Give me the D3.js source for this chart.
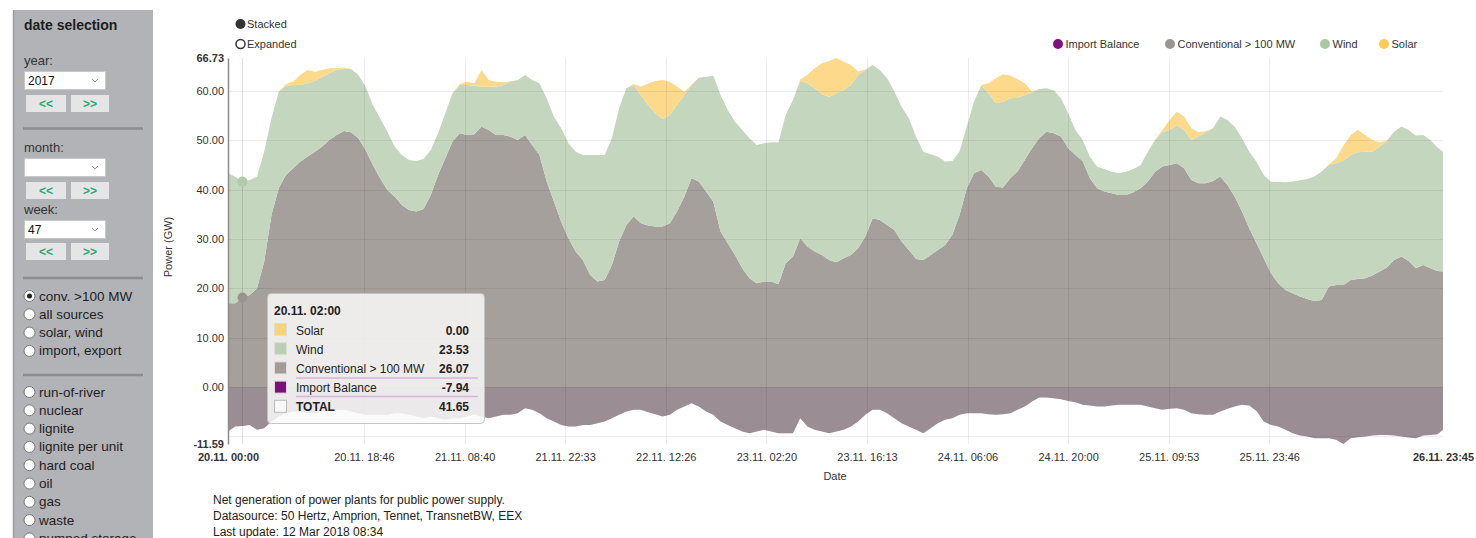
<!DOCTYPE html>
<html>
<head>
<meta charset="utf-8">
<title>Net generation, week 47 2017</title>
<script src="https://cdn.jsdelivr.net/npm/d3@7/dist/d3.min.js"></script>
<style>
	body { margin: 0; background: #fff; overflow: hidden; }
	svg { display: block; font-family: 'Liberation Sans', Arial, sans-serif; }
</style>
</head>
<body>
<script>
const w = 1476;
const h = 538;

// hourly readings, 20.11.2017 00:00 ... 26.11.2017 23:00, last one at 23:45 (GW)
const importBalance = [
	-9.06, -8.05, -7.944, -7.71, -8.72, -8.38, -7.03, -6.02, -5.34, -5.00, -5.00, -5.34,
	-5.34, -5.00, -5.00, -4.66, -4.66, -5.00, -5.34, -5.68, -5.68, -5.68, -5.68, -5.34,
	-5.34, -5.68, -6.02, -6.35, -6.02, -6.35, -6.69, -6.35, -6.35, -6.02, -5.68, -6.02,
	-6.35, -6.02, -5.68, -5.68, -5.34, -4.33, -4.66, -5.34, -6.35, -7.03, -7.71, -8.05,
	-8.05, -7.71, -7.71, -7.37, -7.03, -6.35, -5.68, -5.00, -4.66, -4.66, -5.14, -5.54,
	-6.02, -5.68, -4.66, -3.99, -3.31, -3.99, -5.00, -5.68, -7.03, -7.71, -8.38, -9.06,
	-9.40, -9.06, -8.72, -9.06, -9.40, -9.40, -9.40, -6.35, -8.05, -8.72, -9.06, -9.40,
	-9.06, -8.72, -8.05, -7.03, -5.68, -4.66, -4.66, -5.34, -6.35, -7.37, -8.05, -8.72,
	-9.40, -8.38, -7.37, -6.69, -6.35, -5.68, -5.34, -5.34, -5.34, -5.54, -5.68, -5.54,
	-5.34, -4.66, -3.99, -2.97, -2.16, -2.16, -2.30, -2.50, -2.84, -3.11, -3.65, -3.79,
	-3.99, -3.99, -3.79, -3.65, -3.65, -3.65, -3.65, -3.99, -4.33, -4.66, -4.46, -4.33,
	-4.66, -5.34, -5.54, -5.68, -5.68, -5.00, -4.46, -3.99, -3.65, -3.79, -4.87, -7.03,
	-7.71, -8.05, -8.72, -9.40, -9.87, -10.07, -10.41, -10.41, -10.41, -10.75, -11.59, -10.41,
	-10.21, -10.07, -9.87, -9.74, -9.74, -9.87, -10.07, -10.28, -10.41, -9.87, -9.74, -9.60,
	-8.72
];

const conventional = [
	26.03, 25.02, 26.066, 26.37, 28.73, 33.81, 41.92, 46.31, 48.34, 49.36, 50.71, 52.06,
	53.07, 53.75, 55.10, 55.78, 56.59, 56.66, 55.78, 53.75, 50.71, 48.00, 45.64, 43.95,
	42.26, 41.58, 41.58, 42.46, 44.96, 49.36, 53.07, 56.12, 57.81, 57.13, 56.93, 58.82,
	58.48, 57.13, 56.79, 56.45, 55.44, 55.44, 53.75, 52.40, 48.00, 44.62, 41.24, 38.20,
	35.50, 33.47, 30.42, 28.73, 28.73, 31.10, 35.16, 37.86, 39.21, 37.86, 37.86, 38.06,
	38.54, 38.88, 40.23, 42.59, 45.64, 45.64, 44.62, 43.27, 38.54, 36.85, 35.16, 33.13,
	31.44, 30.09, 30.09, 30.42, 30.22, 34.48, 35.83, 36.51, 36.51, 36.17, 35.83, 35.16,
	34.35, 34.82, 34.82, 35.16, 36.17, 38.88, 38.54, 38.20, 38.20, 36.85, 35.83, 34.68,
	35.16, 35.16, 35.16, 35.50, 37.19, 40.57, 45.64, 48.68, 49.36, 48.21, 46.31, 45.97,
	47.67, 48.34, 50.03, 51.38, 52.60, 53.95, 53.75, 53.28, 51.25, 50.17, 49.49, 46.11,
	44.28, 43.61, 43.07, 42.59, 42.59, 43.13, 43.95, 45.64, 48.00, 49.36, 49.49, 49.69,
	49.02, 47.33, 46.85, 46.99, 47.46, 47.67, 45.43, 42.59, 39.21, 35.97, 34.01, 33.13,
	30.76, 29.07, 28.40, 28.40, 28.19, 27.92, 27.86, 28.06, 30.76, 31.44, 32.25, 32.11,
	32.11, 32.11, 32.45, 33.13, 33.94, 35.63, 36.51, 35.83, 34.48, 34.62, 33.81, 33.13,
	32.11
];

const wind = [
	26.37, 25.69, 23.527, 23.33, 22.65, 22.31, 19.61, 19.61, 18.12, 16.90, 15.55, 14.87,
	14.33, 14.20, 13.52, 13.18, 12.71, 12.85, 12.85, 12.85, 12.17, 12.17, 11.83, 10.14,
	10.14, 10.14, 10.28, 10.14, 9.13, 8.45, 9.13, 9.80, 9.80, 10.14, 9.87, 8.11,
	8.79, 9.80, 10.14, 11.16, 12.17, 12.17, 13.18, 14.54, 16.90, 17.24, 18.93, 19.27,
	20.28, 21.30, 24.34, 25.69, 25.35, 25.69, 27.04, 27.72, 26.71, 26.03, 24.47, 22.99,
	21.84, 21.97, 21.64, 20.62, 18.93, 21.09, 23.33, 25.56, 27.72, 27.04, 27.04, 28.06,
	28.40, 28.06, 28.06, 28.26, 28.80, 30.09, 31.78, 31.91, 33.13, 33.13, 32.59, 33.13,
	34.28, 34.14, 34.48, 35.16, 33.81, 31.10, 30.42, 29.75, 28.06, 27.38, 26.71, 24.81,
	21.97, 20.42, 18.93, 16.90, 15.01, 12.85, 12.51, 14.54, 17.11, 16.90, 16.90, 17.44,
	16.23, 15.01, 13.18, 11.36, 10.01, 8.79, 8.72, 7.78, 7.10, 5.07, 4.26, 4.39,
	4.39, 4.60, 4.39, 4.39, 4.73, 4.73, 4.73, 6.08, 6.42, 6.96, 7.10, 7.78,
	7.78, 8.11, 9.47, 10.34, 10.68, 12.17, 13.18, 14.20, 14.87, 15.55, 16.56, 16.90,
	18.59, 20.62, 21.84, 22.65, 23.60, 24.34, 25.22, 26.03, 24.68, 24.68, 25.22, 25.35,
	25.69, 25.69, 25.15, 25.35, 25.69, 26.03, 26.37, 26.57, 26.91, 26.37, 26.03, 25.02,
	24.34
];

const solar = [
	0, 0, 0, 0, 0, 0, 0, 0, 0.30, 0.68, 2.03, 2.70,
	1.89, 1.35, 1.01, 0.34, 0.14, 0, 0, 0, 0, 0, 0, 0,
	0, 0, 0, 0, 0, 0, 0, 0, 0.20, 0.68, 0.47, 3.38,
	1.35, 1.01, 0.54, 0.10, 0, 0, 0, 0, 0, 0, 0, 0,
	0, 0, 0, 0, 0, 0, 0, 0, 0.20, 1.69, 4.39, 6.56,
	7.91, 6.76, 3.72, 0.68, 0.10, 0, 0, 0, 0, 0, 0, 0,
	0, 0, 0, 0, 0, 0, 0, 0.30, 1.69, 4.06, 6.29, 7.23,
	7.16, 5.75, 4.06, 0.68, 0.10, 0, 0, 0, 0, 0, 0, 0,
	0, 0, 0, 0, 0, 0, 0, 0, 0.14, 2.03, 5.07, 5.54,
	4.60, 3.79, 2.37, 0.14, 0, 0, 0, 0, 0, 0, 0, 0,
	0, 0, 0, 0, 0, 0, 0, 0, 0.10, 0.47, 2.03, 2.70,
	2.70, 2.37, 0.88, 0.27, 0, 0, 0, 0, 0, 0, 0, 0,
	0, 0, 0, 0, 0, 0, 0, 0, 0.10, 1.01, 3.04, 4.06,
	4.53, 3.38, 2.37, 0.88, 0.10, 0, 0, 0, 0, 0, 0, 0,
	0
];

const keys = ['importBalance', 'conventional', 'wind', 'solar'];
const names = ['Import Balance', 'Conventional > 100 MW', 'Wind', 'Solar'];
const xTickLabels = ['20.11. 18:46', '21.11. 08:40', '21.11. 22:33', '22.11. 12:26', '23.11. 02:20',
	'23.11. 16:13', '24.11. 06:06', '24.11. 20:00', '25.11. 09:53', '25.11. 23:46'];
const hoverIndex = 2;

const footerLines = [
	'Net generation of power plants for public power supply.',
	'Datasource: 50 Hertz, Amprion, Tennet, TransnetBW, EEX',
	'Last update: 12 Mar 2018 08:34'
];
const radiosTop = ['conv. >100 MW', 'all sources', 'solar, wind', 'import, export'];
const radiosBottom = ['run-of-river', 'nuclear', 'lignite', 'lignite per unit', 'hard coal', 'oil', 'gas', 'waste', 'pumped storage'];

// styles
const fills = { importBalance: '#60306a', conventional: '#a6a09c', wind: '#c5d6bf', solar: '#fdd98c' };
const dots = { importBalance: '#7f1180', conventional: '#9b9692', wind: '#a9c8a0', solar: '#ffc955' };
const swatches = { importBalance: '#7d0f7d', conventional: '#a29c98', wind: '#b9d1b1', solar: '#fdd37a' };

const num = d3.formatLocale({ decimal: '.', thousands: ',', grouping: [3], currency: ['', ''], minus: '-' }).format('.2f');

const times = d3.range(168).map(hr => new Date(2017, 10, 20, hr));
times.push(new Date(2017, 10, 26, 23, 45));

const rows = times.map((t, i) => ({
	time: t,
	importBalance: importBalance[i],
	conventional: conventional[i],
	wind: wind[i],
	solar: solar[i]
}));

const series = d3.stack().keys(keys)(rows);

const yMin = d3.min(series, s => d3.min(s, d => Math.min(d[0], d[1])));
const yMax = d3.max(series, s => d3.max(s, d => Math.max(d[0], d[1])));

const x = d3.scaleTime()
	.domain([times[0], times[times.length - 1]])
	.range([228, 1443]);

const y = d3.scaleLinear()
	.domain([yMin, yMax])
	.range([444, 58]);

const svg = d3.select('body').append('svg')
	.attr('width', w)
	.attr('height', h);

const area = d3.area()
	.x(d => x(d.data.time))
	.y0(d => y(d[0]))
	.y1(d => y(d[1]));

// conventional, wind, solar first, import balance laid over them
const drawOrder = [1, 2, 3, 0];
svg.append('g')
	.selectAll('path')
	.data(drawOrder.map(i => series[i]))
	.enter()
	.append('path')
	.attr('d', area)
	.attr('fill', d => fills[d.key])
	.attr('fill-opacity', d => d.key === 'importBalance' ? 0.16 : 1);

const fmt = d3.timeFormat('%d.%m. %H:%M');
const parse = d3.timeParse('%d.%m. %H:%M %Y');
const xTicks = xTickLabels.map(s => parse(s + ' 2017'));

// grid
const grid = svg.append('g').attr('stroke', '#000').attr('stroke-opacity', 0.075);
grid.selectAll('.hg')
	.data(d3.range(-10, 61, 10))
	.enter()
	.append('line')
	.attr('x1', 228)
	.attr('x2', 1443)
	.attr('y1', d => Math.round(y(d)) + 0.5)
	.attr('y2', d => Math.round(y(d)) + 0.5);
grid.selectAll('.vg')
	.data(xTicks)
	.enter()
	.append('line')
	.attr('x1', d => Math.round(x(d)) + 0.5)
	.attr('x2', d => Math.round(x(d)) + 0.5)
	.attr('y1', 58)
	.attr('y2', 444);

// hover marker at 20.11. 02:00
const hx = Math.round(x(times[hoverIndex])) + 0.5;
svg.append('line')
	.attr('x1', hx).attr('x2', hx)
	.attr('y1', 58).attr('y2', 444)
	.attr('stroke', '#000')
	.attr('stroke-opacity', 0.12);
svg.append('circle')
	.attr('cx', hx)
	.attr('cy', y(series[2][hoverIndex][1]))
	.attr('r', 5)
	.attr('fill', '#b3caab');
svg.append('circle')
	.attr('cx', hx)
	.attr('cy', y(series[1][hoverIndex][1]))
	.attr('r', 5)
	.attr('fill', '#9a948f');

// axes
const yTicks = [yMin, 0, 10, 20, 30, 40, 50, 60, yMax];
const yAxis = svg.append('g')
	.attr('transform', 'translate(228,0)')
	.call(d3.axisLeft(y).tickValues(yTicks).tickFormat(num).tickSize(0).tickPadding(4));
yAxis.attr('font-family', null).attr('font-size', 11);
yAxis.select('.domain').attr('stroke', '#8c8c8c').attr('stroke-width', 1.5);
yAxis.selectAll('text')
	.attr('fill', '#333')
	.attr('font-weight', (d, i) => (i === 0 || i === yTicks.length - 1) ? 'bold' : null);

const xAxis = svg.append('g')
	.attr('transform', 'translate(0,444)')
	.call(d3.axisBottom(x).tickValues([times[0], ...xTicks, times[times.length - 1]]).tickFormat(fmt).tickSize(0).tickPadding(9));
xAxis.attr('font-family', null).attr('font-size', 11);
xAxis.select('.domain').remove();
xAxis.selectAll('text')
	.attr('fill', '#333')
	.attr('font-weight', (d, i) => (i === 0 || i === xTicks.length + 1) ? 'bold' : null);

svg.append('text')
	.attr('x', 835)
	.attr('y', 480)
	.attr('text-anchor', 'middle')
	.attr('font-size', 11)
	.attr('fill', '#333')
	.text('Date');

svg.append('text')
	.attr('transform', 'translate(172,247) rotate(-90)')
	.attr('text-anchor', 'middle')
	.attr('font-size', 11)
	.attr('fill', '#333')
	.text('Power (GW)');

// stacked / expanded switch
svg.append('circle').attr('cx', 240.5).attr('cy', 24).attr('r', 5).attr('fill', '#333');
svg.append('circle').attr('cx', 240.5).attr('cy', 44).attr('r', 4.5).attr('fill', '#fff').attr('stroke', '#333').attr('stroke-width', 1.5);
svg.append('text').attr('x', 247).attr('y', 28).attr('font-size', 11).attr('fill', '#333').text('Stacked');
svg.append('text').attr('x', 247).attr('y', 48).attr('font-size', 11).attr('fill', '#333').text('Expanded');

// legend
const legendX = [1058, 1170, 1325, 1384];
const legend = svg.append('g')
	.selectAll('g')
	.data(keys)
	.enter()
	.append('g')
	.attr('transform', (d, i) => `translate(${legendX[i]},44)`);
legend.append('circle').attr('r', 5).attr('fill', d => dots[d]);
legend.append('text')
	.attr('x', 7.5)
	.attr('y', 4)
	.attr('font-size', 11)
	.attr('fill', '#333')
	.text((d, i) => names[i]);

// tooltip
const tip = svg.append('g').attr('transform', 'translate(267,293)');
tip.append('rect')
	.attr('x', 0.5).attr('y', 0.5)
	.attr('width', 217).attr('height', 130)
	.attr('rx', 4)
	.attr('fill', '#fafafa')
	.attr('fill-opacity', 0.84)
	.attr('stroke', '#c4c4c4');
tip.append('text')
	.attr('x', 7).attr('y', 22)
	.attr('font-size', 12).attr('font-weight', 'bold').attr('fill', '#222')
	.text(fmt(times[hoverIndex]));

const total = keys.reduce((acc, k) => acc + rows[hoverIndex][k], 0);
const tipRows = [...keys].reverse().map(k => ({ key: k, label: names[keys.indexOf(k)], value: rows[hoverIndex][k], color: swatches[k] }));
tipRows.push({ key: 'total', label: 'TOTAL', value: total, color: '#f8f8f8' });

const tr = tip.selectAll('.row')
	.data(tipRows)
	.enter()
	.append('g')
	.attr('transform', (d, i) => `translate(0,${37 + i * 19.2})`);
tr.append('rect')
	.attr('x', 7.5).attr('y', -6.5)
	.attr('width', 12).attr('height', 12)
	.attr('fill', d => d.color)
	.attr('stroke', d => d.key === 'total' ? '#bbb' : '#ddd');
tr.append('text')
	.attr('x', 29).attr('y', 4.5)
	.attr('font-size', 12)
	.attr('font-weight', d => d.key === 'total' ? 'bold' : null)
	.attr('fill', '#222')
	.text(d => d.label);
tr.append('text')
	.attr('x', 202).attr('y', 4.5)
	.attr('text-anchor', 'end')
	.attr('font-size', 12).attr('font-weight', 'bold')
	.attr('fill', '#222')
	.text(d => num(d.value));
tip.selectAll('.sep')
	.data([85, 103.5])
	.enter()
	.append('line')
	.attr('x1', 29).attr('x2', 211)
	.attr('y1', d => d).attr('y2', d => d)
	.attr('stroke', '#d7b3da')
	.attr('stroke-width', 1.5);

// footer
svg.append('g')
	.selectAll('text')
	.data(footerLines)
	.enter()
	.append('text')
	.attr('x', 213)
	.attr('y', (d, i) => 504 + i * 16)
	.attr('font-size', 12)
	.attr('fill', '#222')
	.text(d => d);

// date selection panel
const panel = svg.append('g');
panel.append('rect')
	.attr('x', 13).attr('y', 10)
	.attr('width', 140).attr('height', 540)
	.attr('fill', '#b2b3b6');
panel.append('line')
	.attr('x1', 13.5).attr('x2', 13.5).attr('y1', 10).attr('y2', 538)
	.attr('stroke', '#9c9da1').attr('stroke-width', 1.5);

panel.append('text')
	.attr('x', 24).attr('y', 29.5)
	.attr('font-size', 14).attr('font-weight', 'bold').attr('fill', '#1e1e1e')
	.text('date selection');

const selects = [
	{ label: 'year:', ly: 65, sy: 71, value: '2017', by: 95 },
	{ label: 'month:', ly: 152, sy: 158, value: '', by: 182 },
	{ label: 'week:', ly: 214, sy: 220, value: '47', by: 243 }
];
const sel = panel.selectAll('.sel')
	.data(selects)
	.enter()
	.append('g');
sel.append('text')
	.attr('x', 24).attr('y', d => d.ly)
	.attr('font-size', 13).attr('fill', '#333')
	.text(d => d.label);
sel.append('rect')
	.attr('x', 24.5).attr('y', d => d.sy + 0.5)
	.attr('width', 81).attr('height', 18)
	.attr('fill', '#fff').attr('stroke', '#c9c9c9');
sel.append('text')
	.attr('x', 28).attr('y', d => d.sy + 13.5)
	.attr('font-size', 12).attr('fill', '#111')
	.text(d => d.value);
sel.append('path')
	.attr('d', d => `M92,${d.sy + 8}l3,3l3,-3`)
	.attr('fill', 'none').attr('stroke', '#999');
[[26, 40, '<<'], [71, 38, '>>']].forEach(([bx, bw, label]) => {
	sel.append('rect')
		.attr('x', bx).attr('y', d => d.by)
		.attr('width', bw).attr('height', 17)
		.attr('fill', '#e5e5e5');
	sel.append('text')
		.attr('x', bx + bw / 2).attr('y', d => d.by + 13)
		.attr('text-anchor', 'middle')
		.attr('font-size', 12).attr('font-weight', 'bold').attr('fill', '#2ea57a')
		.text(label);
});

panel.selectAll('.sepline')
	.data([128.5, 278, 375])
	.enter()
	.append('line')
	.attr('x1', 23).attr('x2', 143)
	.attr('y1', d => d).attr('y2', d => d)
	.attr('stroke', '#8c8d90').attr('stroke-width', 2.5);

const radioData = radiosTop.map((label, i) => ({ label, cy: 296 + i * 18.3, checked: i === 0 }))
	.concat(radiosBottom.map((label, i) => ({ label, cy: 392 + i * 18.3, checked: false })));
const radio = panel.selectAll('.radio')
	.data(radioData)
	.enter()
	.append('g');
radio.append('circle')
	.attr('cx', 29.5).attr('cy', d => d.cy)
	.attr('r', 5.5)
	.attr('fill', '#fff').attr('stroke', '#777');
radio.filter(d => d.checked)
	.append('circle')
	.attr('cx', 29.5).attr('cy', d => d.cy)
	.attr('r', 2.5)
	.attr('fill', '#222');
radio.append('text')
	.attr('x', 39).attr('y', d => d.cy + 4.5)
	.attr('font-size', 13.5).attr('fill', '#1e1e1e')
	.text(d => d.label);
</script>
</body>
</html>
